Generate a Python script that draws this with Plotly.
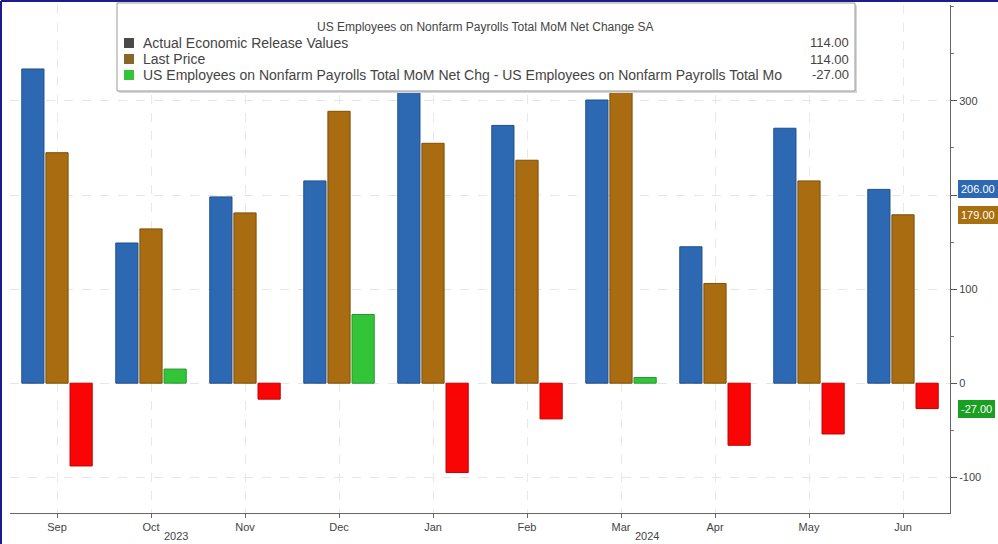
import plotly.graph_objects as go

months = ["Sep", "Oct", "Nov", "Dec", "Jan", "Feb", "Mar", "Apr", "May", "Jun"]
years = ["2023", "2024"]
year_pos = [1.27, 6.28]
actual = [334, 149, 198, 215, 311, 274, 301, 145, 271, 206]
last_price = [245, 164, 181, 289, 255, 237, 310, 106, 215, 179]
diff = [-88, 15, -17, 73, -95, -38, 6, -66, -54, -27]
y_ticks = [-100, 0, 100, 200, 300]
y_ticktext = ["-100", "0", "100", "", "300"]

legend_title = "US Employees on Nonfarm Payrolls Total MoM Net Change SA"
legend_names = [
    "Actual Economic Release Values",
    "Last Price",
    "US Employees on Nonfarm Payrolls Total MoM Net Chg - US Employees on Nonfarm Payrolls Total Mo",
]
legend_values = ["114.00", "114.00", "-27.00"]

BLUE = "#2d69b2"
ORANGE = "#a96c10"
GREEN = "#33c43a"
RED = "#fa0505"
FONT = "Liberation Sans"

W, H = 998, 544
L, R, T, B = 10, 48, 5, 31
PW, PH = W - L - R, H - T - B


def px(x):
    return (x - L) / PW


def py(y):
    return (H - B - y) / PH


fig = go.Figure()
fig.add_trace(go.Bar(x=months, y=actual, name=legend_names[0],
                     marker=dict(color=BLUE, line=dict(color="#1f4f8c", width=1))))
fig.add_trace(go.Bar(x=months, y=last_price, name=legend_names[1],
                     marker=dict(color=ORANGE, line=dict(color="#7d4f08", width=1))))
fig.add_trace(go.Bar(x=months, y=diff, name=legend_names[2],
                     marker=dict(color=[GREEN if v >= 0 else RED for v in diff],
                                 line=dict(color=["#22992a" if v >= 0 else "#c00000" for v in diff], width=1))))

shapes = []
annotations = []

# legend box
shapes.append(dict(type="rect", xref="paper", yref="paper",
                   x0=px(119), x1=px(857), y0=py(93), y1=py(5),
                   fillcolor="#d8d8d8", line=dict(width=0), layer="above"))
shapes.append(dict(type="rect", xref="paper", yref="paper",
                   x0=px(117), x1=px(855), y0=py(91), y1=py(3),
                   fillcolor="white", line=dict(color="#9a9a9a", width=1), layer="above"))
annotations.append(dict(xref="paper", yref="paper", x=px(485), y=py(27), text=legend_title,
                        showarrow=False, font=dict(family=FONT, size=12, color="#444"),
                        xanchor="center", yanchor="middle"))
row_y = [43, 59, 75]
row_cols = ["#4a4a4a", "#8a6428", GREEN]
for i in range(3):
    shapes.append(dict(type="rect", xref="paper", yref="paper",
                       x0=px(124), x1=px(134), y0=py(row_y[i] + 5), y1=py(row_y[i] - 5),
                       fillcolor=row_cols[i], line=dict(width=0), layer="above"))
    annotations.append(dict(xref="paper", yref="paper", x=px(141), y=py(row_y[i]),
                            text=legend_names[i], showarrow=False,
                            font=dict(family=FONT, size=14, color="#444"),
                            xanchor="left", yanchor="middle"))
    annotations.append(dict(xref="paper", yref="paper", x=px(851), y=py(row_y[i]),
                            text=legend_values[i], showarrow=False,
                            font=dict(family=FONT, size=13, color="#444"),
                            xanchor="right", yanchor="middle"))

# outer frame (left and top)
shapes.append(dict(type="line", xref="paper", yref="paper", x0=px(1), x1=px(1), y0=py(544), y1=py(1),
                   line=dict(color="#1c1c8a", width=2)))
shapes.append(dict(type="line", xref="paper", yref="paper", x0=px(1), x1=px(998), y0=py(1), y1=py(1),
                   line=dict(color="#1c1c8a", width=2)))

# year labels
for yr, pos in zip(years, year_pos):
    annotations.append(dict(xref="x", yref="paper", x=pos, y=py(536), text=yr, showarrow=False,
                            font=dict(family=FONT, size=11, color="#444"),
                            xanchor="center", yanchor="middle"))

# last value tags
tags = [(actual[-1], BLUE), (last_price[-1], "#a8700f"), (diff[-1], "#1aa020")]
for v, c in tags:
    annotations.append(dict(xref="paper", yref="y", x=1, y=v, text=f"{v:.2f}", showarrow=False,
                            xanchor="left", yanchor="middle", xshift=8,
                            bgcolor=c, bordercolor=c, borderpad=2,
                            font=dict(family=FONT, size=11, color="white")))

fig.update_layout(
    width=W, height=H,
    margin=dict(l=L, r=R, t=T, b=B),
    paper_bgcolor="white", plot_bgcolor="white",
    barmode="group", bargap=0.23, bargroupgap=0.08,
    showlegend=False,
    shapes=shapes, annotations=annotations,
    font=dict(family=FONT, color="#444"),
)
fig.update_xaxes(
    type="category", range=[-0.5, 9.5],
    showgrid=True, gridcolor="#e8e8e8", griddash="dash",
    showline=True, linecolor="#666", linewidth=1,
    ticks="outside", ticklen=4, tickcolor="#666",
    tickfont=dict(family=FONT, size=11, color="#444"),
)
fig.update_yaxes(
    side="right", range=[-138, 402],
    tickvals=y_ticks, ticktext=y_ticktext,
    showgrid=True, gridcolor="#e6e6e6", griddash="dash",
    zeroline=False,
    showline=True, linecolor="#666", linewidth=1,
    ticks="outside", ticklen=6, tickcolor="#555",
    minor=dict(dtick=50, ticklen=3, tickcolor="#777", showgrid=False),
    tickfont=dict(family=FONT, size=11, color="#444"),
)

fig.write_html("out.html", config={"displayModeBar": False},
               post_script="document.body.style.margin='0px';")
